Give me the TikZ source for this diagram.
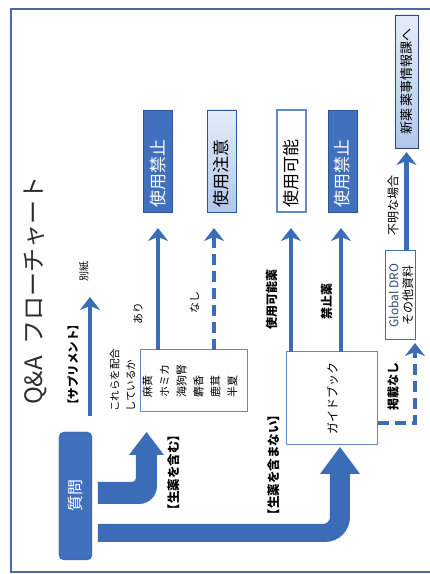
\documentclass[tikz,border=0pt]{standalone}
\usepackage{fontspec}
\setmainfont{Noto Sans CJK JP}
\usetikzlibrary{arrows.meta}
\definecolor{framec}{RGB}{74,108,165}
\definecolor{arrc}{RGB}{58,108,184}
\definecolor{boxc}{RGB}{64,112,190}
\definecolor{boxd}{RGB}{45,85,150}
\definecolor{lightc}{RGB}{176,200,236}
\definecolor{edgec}{RGB}{95,138,200}
\definecolor{titlec}{RGB}{45,45,45}
\definecolor{navyc}{RGB}{50,70,110}
\newcommand{\fsz}[1]{\fontsize{#1}{#1}\selectfont}
\begin{document}
\begin{tikzpicture}[x=1pt,y=1pt,rotate=90,transform shape,
  every node/.style={inner sep=0pt,outer sep=0pt,font=\fsz{11}},
  arr/.style={line width=4.5pt,draw=arrc,-{Stealth[length=13pt,width=20pt,inset=4pt]}},
  darr/.style={arr,dash pattern=on 11pt off 6pt},
  resbox/.style={minimum width=102pt,minimum height=29pt,text width=94pt,align=left,inner xsep=4pt,font=\fsz{17}},
  darkbox/.style={resbox,draw=boxd,line width=0.8pt,fill=boxc,text=white},
  lightbox/.style={resbox,draw=boxd,line width=0.8pt,top color=lightc!35!white,bottom color=lightc,text=black},
  whitebox/.style={resbox,draw=edgec,line width=1.5pt,fill=white,text=black},
  plainbox/.style={draw=edgec,line width=1pt,fill=white},
  boldlab/.style={font=\bfseries\fsz{12.5}}
]
\path[use as bounding box] (0,0) rectangle (574,430);
\clip (0,0) rectangle (574,430);

% frame
\draw[framec,line width=2.2pt] (2,-10) rectangle (565,419);

% title
\node[anchor=west,font=\fsz{24},text=titlec] (title) at (169,395) {Q\&A\hspace{0.5em}フローチャート};

% question box
\node[draw=boxd,fill=boxc,rounded corners=5pt,minimum width=128pt,minimum height=33pt,text=white,font=\fsz{16}] (q) at (78,354.5) {質問};

% supplement branch
\node[font=\bfseries\fsz{11.5}] (suppl) at (209,357) {【サプリメント】};
\coordinate (sup-s) at (158,340);
\coordinate (sup-e) at (277,340);
\draw[arr] (sup-s) -- (sup-e);
\node[font=\fsz{10}] (bessi) at (302,346) {別紙};

% herbs box
\node[plainbox,minimum width=62pt,minimum height=107pt] (haigo) at (193,235.5) {};
\node[anchor=west,align=left,font=\fontsize{11}{17}\selectfont] (herbs) at (176,240) {麻黄\\ホミカ\\海狗腎\\麝香\\鹿茸\\半夏};
\node[anchor=west,align=left,font=\fontsize{10.5}{16}\selectfont] (ask) at (162,307.5) {これらを配合\\しているか};

% thick bent arrows
\fill[arrc] (70,332) -- (70,291) arc[start angle=180,end angle=270,radius=18] -- (119,273) -- (119,266) -- (142,283.5) -- (119,301) -- (119,294) -- (96,294) arc[start angle=270,end angle=180,radius=4] -- (92,332) -- cycle;
\fill[arrc] (32,332) -- (32,105) arc[start angle=180,end angle=270,radius=25] -- (100,80) -- (100,70) -- (127,90) -- (100,110) -- (100,100) -- (57,100) arc[start angle=270,end angle=180,radius=7] -- (50,332) -- cycle;

\node[boldlab] (incl) at (101.5,256) {【生薬を含む】};
\node[boldlab] (excl) at (109,156) {【生薬を含まない】};

% guidebook
\node[plainbox,minimum width=93pt,minimum height=91pt,font=\fsz{12}] (guide) at (175.5,97.5) {ガイドブック};

% result boxes
\node[darkbox] (kinshi1) at (413,272) {使用禁止};
\node[lightbox] (chui) at (413,208.5) {使用注意};
\node[whitebox] (kanou) at (413,138.5) {使用可能};
\node[darkbox] (kinshi2) at (413,87.5) {使用禁止};

% arrows to results
\coordinate (ari-s) at (224,272);
\coordinate (ari-e) at (346,272);
\coordinate (nashi-s) at (224,216);
\coordinate (nashi-e) at (346,216);
\coordinate (kanou-s) at (222,139);
\coordinate (kanou-e) at (346,139);
\coordinate (kinshi-s) at (222,89);
\coordinate (kinshi-e) at (346,89);
\draw[arr] (ari-s) -- (ari-e);
\draw[darr] (nashi-s) -- (nashi-e);
\draw[arr] (kanou-s) -- (kanou-e);
\draw[arr] (kinshi-s) -- (kinshi-e);

\node (ari) at (260,292) {あり};
\node (nashi) at (271,235.5) {なし};
\node[font=\bfseries\fsz{12}] (kanouyaku) at (274.5,158.5) {使用可能薬};
\node[font=\bfseries\fsz{12}] (kinshiyaku) at (272,103.5) {禁止薬};

% Global DRO
\node[draw=framec,line width=1pt,fill=white,minimum width=89pt,minimum height=30pt,align=center,font=\fontsize{12}{14}\selectfont] (gdro) at (278.5,29) {\textcolor{navyc}{Global DRO}\\その他資料};
\coordinate (l-s) at (151,52);
\coordinate (lcorner) at (151,15);
\coordinate (l-e) at (231,15);
\draw[darr] (l-s) -- (lcorner) -- (l-e);
\node[font=\bfseries\fsz{12}] (keisai) at (187,37) {掲載なし};

% new drug dept
\node[draw=navyc,line width=0.8pt,top color=lightc!35!white,bottom color=lightc,minimum width=133pt,minimum height=23pt,font=\fsz{13}] (shinyaku) at (492.5,23.5) {新薬 薬事情報課へ};
\coordinate (f-s) at (323,23.5);
\coordinate (f-e) at (422,23.5);
\draw[arr] (f-s) -- (f-e);
\node[font=\fsz{12}] (fumei) at (368,37) {不明な場合};
\end{tikzpicture}
\end{document}
